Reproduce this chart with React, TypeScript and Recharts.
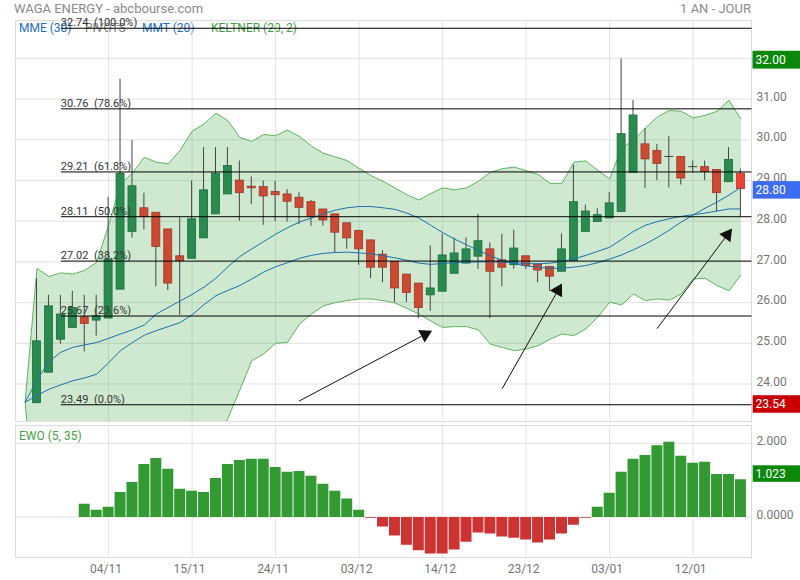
import React from "react";
import {
  ComposedChart,
  Area,
  Line,
  Bar,
  Cell,
  XAxis,
  YAxis,
  CartesianGrid,
  ReferenceLine,
} from "recharts";

// day index 0 = 27/10, one per trading day up to 18/01
const xTicks = [6, 13, 20, 27, 34, 41, 48, 55];
const xTickLabels = ["04/11", "15/11", "24/11", "03/12", "14/12", "23/12", "03/01", "12/01"];

const opens = [
  23.54, 24.29, 25.1, 25.39, 25.65, 25.57, 25.62, 26.33, 27.75, 28.33,
  28.22, 27.81, 27.15, 27.09, 27.59, 28.18, 28.67, 29.01, 28.86, 28.85,
  28.73, 28.67, 28.59, 28.48, 28.3, 28.18, 27.96, 27.77, 27.54, 27.19,
  27.01, 26.7, 26.48, 26.19, 26.28, 26.72, 26.97, 27.14, 27.32, 27.05,
  26.93, 27.15, 26.95, 26.89, 26.77, 27.03, 27.75, 27.99, 28.08, 28.24,
  29.2, 29.9, 29.74, 29.58, 29.59, 29.34, 29.34, 29.27, 28.97, 29.18,
];
const highs = [
  26.6, 26.19, 26.19, 26.29, 26.19, 26.19, 28.6, 31.5, 30.0, 28.7,
  28.22, 27.81, 28.1, 29.0, 29.82, 29.82, 29.82, 29.49, 29.1, 29.0,
  28.99, 28.79, 28.71, 28.52, 28.3, 28.18, 27.96, 27.79, 27.54, 27.29,
  27.01, 26.7, 26.48, 27.4, 27.69, 27.6, 27.6, 28.18, 27.48, 27.69,
  27.79, 27.15, 26.95, 26.89, 27.7, 29.39, 28.41, 28.32, 28.71, 32.0,
  30.98, 30.29, 29.9, 30.1, 29.59, 29.49, 29.49, 29.27, 29.82, 29.29,
];
const lows = [
  23.54, 24.29, 24.99, 25.39, 24.8, 25.19, 25.62, 26.33, 27.6, 27.8,
  26.4, 26.31, 25.7, 27.09, 27.59, 28.18, 28.67, 28.01, 28.42, 27.91,
  28.0, 27.99, 27.93, 27.89, 27.89, 27.24, 27.32, 26.93, 26.6, 26.5,
  26.01, 26.01, 25.62, 25.8, 26.28, 26.72, 26.97, 26.83, 25.62, 26.4,
  26.83, 26.83, 26.5, 26.29, 26.77, 27.03, 27.75, 27.99, 28.08, 28.24,
  29.2, 28.82, 29.01, 28.83, 28.9, 29.2, 29.01, 28.24, 28.97, 28.12,
];
const closes = [
  25.06, 25.92, 25.72, 25.88, 25.49, 25.68, 27.07, 29.18, 28.87, 28.11,
  27.38, 26.48, 27.03, 28.06, 28.77, 29.18, 29.37, 28.7, 28.82, 28.62,
  28.65, 28.49, 28.34, 28.12, 28.03, 27.73, 27.59, 27.32, 26.87, 26.87,
  26.36, 26.25, 25.88, 26.36, 27.17, 27.22, 27.32, 27.52, 26.77, 26.87,
  27.34, 26.91, 26.8, 26.65, 27.32, 28.48, 28.25, 28.16, 28.45, 30.15,
  30.61, 29.53, 29.42, 29.59, 29.06, 29.34, 29.22, 28.7, 29.52, 28.8,
];

// indicators start one day earlier (index -1)
const mmt20 = [
  23.55, 24.1, 24.55, 24.78, 24.9, 24.96, 25.02, 25.12, 25.23, 25.33, 25.45,
  25.72, 25.88, 26.04, 26.2, 26.38, 26.6, 26.88, 27.13, 27.32, 27.5,
  27.68, 27.84, 27.98, 28.08, 28.18, 28.27, 28.33, 28.36, 28.36, 28.33,
  28.29, 28.2, 28.08, 27.9, 27.72, 27.56, 27.42, 27.28, 27.15, 27.04,
  26.96, 26.9, 26.87, 26.84, 26.85, 26.87, 26.91, 26.98, 27.07, 27.17,
  27.3, 27.44, 27.6, 27.78, 27.98, 28.15, 28.32, 28.47, 28.64, 28.83,
];
const mme30 = [
  23.55, 23.72, 23.87, 23.98, 24.08, 24.15, 24.24, 24.52, 24.82, 25.02, 25.2,
  25.31, 25.41, 25.51, 25.7, 25.95, 26.17, 26.3, 26.42, 26.58, 26.75,
  26.88, 26.98, 27.09, 27.16, 27.21, 27.23, 27.24, 27.22, 27.2, 27.15,
  27.1, 27.04, 26.97, 26.94, 26.96, 26.98, 26.99, 27.0, 27.0, 26.99,
  26.98, 26.96, 26.95, 26.97, 27.01, 27.07, 27.16, 27.26, 27.36, 27.55,
  27.75, 27.9, 27.99, 28.06, 28.12, 28.16, 28.2, 28.25, 28.3, 28.3,
];
const keltnerUp = [
  23.55, 26.84, 26.64, 26.73, 26.7, 26.79, 26.99, 27.9, 28.92, 29.18, 29.57,
  29.45, 29.41, 29.74, 30.21, 30.39, 30.65, 30.47, 30.06, 29.96, 30.13,
  30.1, 30.24, 30.08, 29.85, 29.67, 29.58, 29.49, 29.3, 29.12, 28.98,
  28.82, 28.65, 28.52, 28.68, 28.82, 28.77, 28.82, 28.98, 29.2, 29.29,
  29.33, 29.24, 29.15, 28.93, 28.93, 29.45, 29.48, 29.25, 29.04, 29.8,
  29.98, 30.29, 30.56, 30.72, 30.7, 30.54, 30.6, 30.7, 30.97, 30.51,
];
const keltnerLow = [
  23.55, 20.5, 20.6, 20.7, 20.8, 20.9, 21.0, 20.8, 20.7, 20.9, 21.0,
  21.3, 21.6, 21.8, 22.0, 22.2, 22.6, 23.15, 23.85, 24.57, 24.74,
  25.0, 25.02, 25.47, 25.72, 25.92, 26.0, 26.05, 26.09, 26.09, 26.05,
  25.99, 25.86, 25.72, 25.55, 25.39, 25.41, 25.41, 25.33, 24.98, 24.9,
  24.82, 24.86, 24.94, 25.1, 25.23, 25.19, 25.35, 25.64, 26.01, 25.94,
  26.21, 26.05, 26.09, 26.06, 26.21, 26.58, 26.6, 26.42, 26.29, 26.68,
];
const ewo = [
  null, null, null, null, 0.36, 0.2, 0.28, 0.68, 0.95, 1.44,
  1.6, 1.31, 0.77, 0.71, 0.68, 1.06, 1.44, 1.55, 1.58, 1.58,
  1.36, 1.23, 1.25, 1.12, 0.9, 0.71, 0.5, 0.2, -0.02, -0.26,
  -0.5, -0.75, -0.9, -0.99, -0.99, -0.88, -0.67, -0.42, -0.45, -0.53,
  -0.56, -0.61, -0.69, -0.61, -0.45, -0.21, -0.02, 0.28, 0.66, 1.23,
  1.58, 1.68, 1.95, 2.04, 1.66, 1.47, 1.5, 1.17, 1.17, 1.023,
];

const fibLevels = [23.49, 25.67, 27.02, 28.11, 29.21, 30.76, 32.74];
const fibPcts = ["0.0%", "23.6%", "38.2%", "50.0%", "61.8%", "78.6%", "100.0%"];
const fibStart = 2;

const arrows = [
  { x1: 21.96, y1: 23.58, x2: 33.11, y2: 25.31 },
  { x1: 38.98, y1: 23.88, x2: 44.0, y2: 26.47 },
  { x1: 51.97, y1: 25.36, x2: 58.26, y2: 27.82 },
];

const X_MIN = -1.844;
const X_MAX = 59.89;
const priceGrid = [24, 25, 26, 27, 28, 29, 30, 31, 32];
const ewoGrid = [0, 2];

const maxHigh = Math.max(...highs);
const minLow = Math.min(...lows);
const lastClose = closes[closes.length - 1];
const lastEwo = ewo[ewo.length - 1] as number;

const priceBoxes = [
  { value: maxHigh, color: "#0b880b" },
  { value: lastClose, color: "#3b6cf2" },
  { value: minLow, color: "#c80000" },
];

const rows = mmt20.map((_, k) => {
  const i = k - 1;
  return {
    x: i,
    open: i >= 0 ? opens[i] : null,
    high: i >= 0 ? highs[i] : null,
    low: i >= 0 ? lows[i] : null,
    close: i >= 0 ? closes[i] : null,
    last: i === opens.length - 1,
    mmt: mmt20[k],
    mme: mme30[k],
    band: [keltnerLow[k], keltnerUp[k]],
    ewo: i >= 0 ? ewo[i] : null,
  };
});

const GREEN = "#2a8b50";
const RED = "#cc4a33";
const FONT = "Roboto, sans-serif";

function Candle(props: any) {
  const { x, y, width, height, payload } = props;
  if (!payload || payload.open == null || !isFinite(y) || !isFinite(height)) return null;
  const { open, close, high, low, last } = payload;
  const top = Math.min(y, y + height);
  const h = Math.abs(height);
  const span = high - low;
  const toY = (v: number) => (span === 0 ? top : top + ((high - v) / span) * h);
  const cx = x + width / 2;
  const up = close >= open;
  const bTop = toY(Math.max(open, close));
  const bH = Math.max(1, toY(Math.min(open, close)) - bTop);
  const fill = up ? GREEN : last ? "#ee4035" : RED;
  const stroke = up ? "#1f6b3c" : last ? "#c43028" : "#9a3726";
  return (
    <g>
      <line x1={cx} x2={cx} y1={top} y2={top + h} stroke="#444" strokeWidth={1} />
      {Math.abs(open - close) < 0.02 ? (
        <line x1={x} x2={x + width} y1={bTop} y2={bTop} stroke="#444" strokeWidth={1} />
      ) : (
        <rect x={x + 0.5} y={bTop} width={width - 1} height={bH} fill={fill} stroke={stroke} strokeWidth={0.8} />
      )}
    </g>
  );
}

function Arrow(props: any) {
  const { x1, y1, x2, y2 } = props;
  const a = Math.atan2(y2 - y1, x2 - x1);
  const len = 12;
  const half = 7;
  const bx = x2 - len * Math.cos(a);
  const by = y2 - len * Math.sin(a);
  const px = -Math.sin(a) * half;
  const py = Math.cos(a) * half;
  return (
    <g>
      <line x1={x1} y1={y1} x2={bx} y2={by} stroke="#111" strokeWidth={1} />
      <polygon points={`${x2},${y2} ${bx + px},${by + py} ${bx - px},${by - py}`} fill="#111" />
    </g>
  );
}

function PriceTick(props: any) {
  const { x, y, payload } = props;
  const v = payload.value;
  const box = priceBoxes.find((b) => Math.abs(b.value - v) < 1e-6);
  if (box) {
    return (
      <g>
        <rect x={x + 1.2} y={y - 7.5} width={48} height={17.5} fill={box.color} />
        <text x={x + 4} y={y + 1.5} dy="0.35em" fill="#fff" fontSize={12} fontFamily={FONT}>
          {v.toFixed(2)}
        </text>
      </g>
    );
  }
  if (v === 32 && Math.abs(maxHigh - 32) < 1e-6) return null;
  return (
    <text x={x + 5} y={y - 2.5} dy="0.35em" fill="#757575" fontSize={12} fontFamily={FONT}>
      {v.toFixed(2)}
    </text>
  );
}

function EwoTick(props: any) {
  const { x, y, payload } = props;
  const v = payload.value;
  if (Math.abs(v - lastEwo) < 1e-6) {
    return (
      <g>
        <rect x={x + 1.2} y={y - 14} width={48} height={16.5} fill="#0b880b" />
        <text x={x + 4} y={y - 5.6} dy="0.35em" fill="#fff" fontSize={12} fontFamily={FONT}>
          {v.toFixed(3)}
        </text>
      </g>
    );
  }
  return (
    <text x={x + 5} y={y - 2.5} dy="0.35em" fill="#757575" fontSize={12} fontFamily={FONT}>
      {v === 0 ? "0.0000" : v.toFixed(3)}
    </text>
  );
}

function DateTick(props: any) {
  const { x, y, payload } = props;
  const k = xTicks.indexOf(payload.value);
  return (
    <text x={x - 2.5} y={y + 11.5} dy="0.35em" textAnchor="middle" fill="#757575" fontSize={12} fontFamily={FONT}>
      {xTickLabels[k]}
    </text>
  );
}

const legend = [
  { text: "MME (30)", left: 19, color: "#1e6fc0" },
  { text: "PIVOTS", left: 85, color: "#7a7a7a" },
  { text: "MMT (20)", left: 142, color: "#1e6fc0" },
  { text: "KELTNER (20, 2)", left: 211, color: "#45a045" },
];

export default function App() {
  const abs: React.CSSProperties = { position: "absolute", fontFamily: FONT, whiteSpace: "nowrap" };
  return (
    <div style={{ position: "absolute", left: 0, top: 0, width: 800, height: 580, background: "#fff", overflow: "hidden" }}>
      <div style={{ ...abs, left: 14, top: 0, fontSize: 13, lineHeight: "17px", color: "#8a8a8a" }}>
        WAGA ENERGY - abcbourse.com
      </div>
      <div style={{ ...abs, right: 49, top: 0, fontSize: 13, lineHeight: "17px", color: "#8a8a8a" }}>1 AN - JOUR</div>
      {legend.map((l) => (
        <div key={l.text} style={{ ...abs, left: l.left, top: 20, fontSize: 12, lineHeight: "16px", color: l.color }}>
          {l.text}
        </div>
      ))}
      <div style={{ ...abs, left: 19, top: 428, fontSize: 12, lineHeight: "16px", color: "#45a045" }}>EWO (5, 35)</div>
      <div style={{ position: "absolute", left: 15, top: 20, width: 737, height: 402, boxSizing: "border-box", border: "1px solid #dcdcdc" }} />
      <div style={{ position: "absolute", left: 15, top: 425, width: 737, height: 133, boxSizing: "border-box", border: "1px solid #dcdcdc" }} />

      <div style={{ position: "absolute", left: 0, top: 0 }}>
        <ComposedChart width={800} height={421} data={rows} margin={{ top: 20, right: 0, bottom: 0, left: 15 }}>
          <CartesianGrid stroke="#e2e2e2" horizontalValues={priceGrid} verticalValues={xTicks} />
          <XAxis type="number" dataKey="x" domain={[X_MIN, X_MAX]} ticks={xTicks} hide allowDataOverflow />
          <YAxis
            orientation="right"
            width={48.5}
            domain={[23.091, 32.943]}
            ticks={[24, 25, 26, 27, 28, 29, 30, 31, 32, ...priceBoxes.map((b) => b.value)]}
            interval={0}
            tick={<PriceTick />}
            tickSize={0}
            tickMargin={0}
            axisLine={false}
            tickLine={false}
            allowDataOverflow
          />
          <Area
            dataKey="band"
            stroke="#5fb35f"
            strokeWidth={1}
            fill="#4caf50"
            fillOpacity={0.27}
            isAnimationActive={false}
          />
          <Line dataKey="mme" stroke="#1c6fad" strokeWidth={1} dot={false} isAnimationActive={false} />
          <Line dataKey="mmt" stroke="#1c6fad" strokeWidth={1} dot={false} isAnimationActive={false} />
          <Bar
            dataKey={(d: any) => (d.open == null ? null : [d.low, d.high])}
            barSize={9}
            shape={(p: any) => <Candle {...p} />}
            isAnimationActive={false}
          />
          {fibLevels.map((v, i) => (
            <ReferenceLine
              key={v}
              segment={[
                { x: fibStart, y: v },
                { x: X_MAX, y: v },
              ]}
              stroke="#000"
              strokeWidth={1}
              ifOverflow="visible"
              label={(p: any) => (
                <text x={p.viewBox.x} y={p.viewBox.y - 2} fill="#333" fontSize={11} fontFamily={FONT}>
                  {v.toFixed(2) + "\u00a0\u00a0(" + fibPcts[i] + ")"}
                </text>
              )}
            />
          ))}
          {arrows.map((a, i) => (
            <ReferenceLine
              key={"arrow" + i}
              segment={[
                { x: a.x1, y: a.y1 },
                { x: a.x2, y: a.y2 },
              ]}
              ifOverflow="visible"
              shape={(p: any) => <Arrow {...p} />}
            />
          ))}
        </ComposedChart>
      </div>

      <div style={{ position: "absolute", left: 0, top: 420 }}>
        <ComposedChart width={800} height={160} data={rows} margin={{ top: 5, right: 0, bottom: 0, left: 15 }}>
          <CartesianGrid stroke="#e2e2e2" horizontalValues={ewoGrid} verticalValues={xTicks} />
          <XAxis
            type="number"
            dataKey="x"
            domain={[X_MIN, X_MAX]}
            ticks={xTicks}
            interval={0}
            height={22.3}
            tick={<DateTick />}
            tickSize={0}
            tickMargin={0}
            axisLine={false}
            tickLine={false}
            allowDataOverflow
          />
          <YAxis
            orientation="right"
            width={48.5}
            domain={[-1.104, 2.497]}
            ticks={[0, 2, lastEwo]}
            interval={0}
            tick={<EwoTick />}
            tickSize={0}
            tickMargin={0}
            axisLine={false}
            tickLine={false}
            allowDataOverflow
          />
          <Bar dataKey="ewo" barSize={11} isAnimationActive={false}>
            {rows.map((r, i) => (
              <Cell key={i} fill={r.ewo != null && r.ewo < 0 ? "#cc3333" : "#339933"} />
            ))}
          </Bar>
        </ComposedChart>
      </div>
    </div>
  );
}
